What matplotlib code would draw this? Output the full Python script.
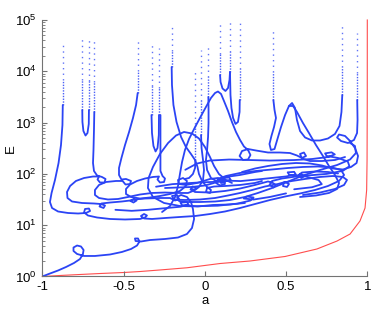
import numpy as np
import matplotlib
matplotlib.use("Agg")
import matplotlib.pyplot as plt

plt.rcParams['font.family'] = ['Liberation Sans', 'DejaVu Sans']
plt.rcParams['font.size'] = 9.5

# red branch: a against E
red_a = [-1.0, -0.891, -0.768, -0.645, -0.497, -0.399, -0.276, -0.110, 0.094, 0.278,
         0.494, 0.690, 0.814, 0.894, 0.955, 0.986, 0.996, 0.9985, 0.9997, 1.0]
red_E = [1.0, 1.046, 1.094, 1.143, 1.197, 1.250, 1.340, 1.479, 1.791, 2.004,
         2.455, 3.436, 4.92, 6.73, 12.08, 21.6, 48.5, 186.6, 2754.0, 1e5]

# blue trajectory as (a, log10 E) pieces
start_curve = [(-1.000, 0.000), (-0.953, 0.058), (-0.903, 0.117), (-0.854, 0.185), (-0.805, 0.263),
               (-0.768, 0.341), (-0.750, 0.439), (-0.746, 0.517), (-0.762, 0.585), (-0.786, 0.604),
               (-0.808, 0.565), (-0.808, 0.497), (-0.786, 0.439), (-0.743, 0.400), (-0.676, 0.400),
               (-0.583, 0.429), (-0.510, 0.478), (-0.454, 0.536), (-0.417, 0.604), (-0.402, 0.682),
               (-0.411, 0.741), (-0.430, 0.741), (-0.426, 0.692), (-0.393, 0.682), (-0.337, 0.711),
               (-0.245, 0.731), (-0.165, 0.760), (-0.110, 0.828), (-0.079, 0.945), (-0.066, 1.121),
               (-0.073, 1.316), (-0.085, 1.452), (-0.110, 1.550), (-0.146, 1.589), (-0.171, 1.550),
               (-0.159, 1.472), (-0.116, 1.452), (-0.030, 1.452), (0.063, 1.462), (0.155, 1.491),
               (0.247, 1.550), (0.327, 1.628), (0.414, 1.725), (0.506, 1.842), (0.604, 1.969),
               (0.709, 2.076), (0.814, 2.173), (0.894, 2.281), (0.930, 2.407), (0.924, 2.544),
               (0.894, 2.602)]

branch_1 = [(-0.874, 3.343), (-0.876, 2.953), (-0.885, 2.563), (-0.900, 2.212), (-0.922, 1.881),
            (-0.943, 1.628), (-0.953, 1.452), (-0.940, 1.335), (-0.903, 1.267), (-0.842, 1.238),
            (-0.780, 1.228), (-0.731, 1.238), (-0.706, 1.277), (-0.713, 1.325), (-0.737, 1.316),
            (-0.743, 1.248), (-0.719, 1.189), (-0.663, 1.150), (-0.583, 1.121), (-0.491, 1.111),
            (-0.399, 1.121), (-0.368, 1.150), (-0.356, 1.189), (-0.374, 1.218), (-0.393, 1.179),
            (-0.374, 1.131), (-0.325, 1.121), (-0.245, 1.140), (-0.153, 1.160), (-0.060, 1.179),
            (0.032, 1.218), (0.124, 1.267), (0.217, 1.335), (0.309, 1.413), (0.401, 1.491),
            (0.494, 1.559), (0.586, 1.618), (0.678, 1.686), (0.758, 1.764), (0.826, 1.862),
            (0.857, 1.979), (0.838, 2.076), (0.783, 2.125), (0.697, 2.144), (0.604, 2.135),
            (0.512, 2.115), (0.414, 2.086), (0.315, 2.057), (0.217, 2.018), (0.130, 1.959),
            (0.081, 1.901), (0.069, 1.823), (0.094, 1.774), (0.124, 1.803), (0.118, 1.871),
            (0.087, 1.881), (0.057, 1.823), (0.001, 1.774), (-0.079, 1.745), (-0.165, 1.735),
            (-0.245, 1.725)]

u_23 = [(-0.754, 3.246), (-0.753, 3.012), (-0.747, 2.836), (-0.734, 2.748), (-0.722, 2.797),
        (-0.714, 2.973), (-0.713, 3.246)]

branch_4 = [(-0.680, 3.207), (-0.682, 2.856), (-0.685, 2.466), (-0.688, 2.212), (-0.682, 2.057),
            (-0.663, 1.969), (-0.633, 1.940), (-0.611, 1.901), (-0.617, 1.832), (-0.645, 1.832),
            (-0.660, 1.891), (-0.651, 1.949), (-0.688, 1.949), (-0.743, 1.920), (-0.793, 1.862),
            (-0.829, 1.764), (-0.848, 1.647), (-0.845, 1.530), (-0.817, 1.462), (-0.756, 1.433),
            (-0.682, 1.423), (-0.639, 1.413), (-0.614, 1.384), (-0.623, 1.335), (-0.648, 1.365),
            (-0.636, 1.423), (-0.583, 1.442), (-0.510, 1.462), (-0.460, 1.481), (-0.436, 1.511),
            (-0.420, 1.481), (-0.439, 1.442), (-0.457, 1.472), (-0.436, 1.501), (-0.368, 1.520),
            (-0.276, 1.530), (-0.214, 1.530), (-0.183, 1.481), (-0.159, 1.511), (-0.171, 1.589),
            (-0.202, 1.569), (-0.190, 1.501), (-0.122, 1.491), (-0.030, 1.501), (0.063, 1.530),
            (0.143, 1.579), (0.217, 1.628), (0.291, 1.686), (0.370, 1.754), (0.450, 1.803),
            (0.494, 1.842), (0.518, 1.803), (0.506, 1.745), (0.481, 1.764), (0.487, 1.832),
            (0.537, 1.862), (0.617, 1.901), (0.709, 1.940), (0.789, 1.959), (0.850, 1.940),
            (0.875, 1.881), (0.857, 1.784), (0.801, 1.706), (0.709, 1.637), (0.604, 1.589)]

branch_5 = [(-0.413, 3.577), (-0.423, 3.343), (-0.442, 3.090), (-0.466, 2.817), (-0.491, 2.563),
            (-0.513, 2.310), (-0.528, 2.115), (-0.528, 1.979), (-0.513, 1.891), (-0.485, 1.901),
            (-0.454, 1.862), (-0.460, 1.803), (-0.488, 1.793), (-0.506, 1.862), (-0.546, 1.862),
            (-0.608, 1.842), (-0.651, 1.784), (-0.676, 1.686), (-0.676, 1.589), (-0.651, 1.530),
            (-0.596, 1.501), (-0.534, 1.511), (-0.472, 1.550), (-0.399, 1.598), (-0.325, 1.628),
            (-0.245, 1.637), (-0.165, 1.628), (-0.103, 1.628), (-0.066, 1.676), (-0.054, 1.735),
            (-0.076, 1.754), (-0.088, 1.696), (-0.060, 1.647), (0.032, 1.637), (0.124, 1.667),
            (0.217, 1.715), (0.309, 1.784), (0.389, 1.852), (0.414, 1.832), (0.438, 1.784),
            (0.423, 1.735), (0.398, 1.784), (0.414, 1.862), (0.475, 1.910), (0.561, 1.949),
            (0.592, 1.998), (0.614, 1.959), (0.595, 1.920), (0.574, 1.969), (0.598, 2.027),
            (0.678, 2.047), (0.758, 2.037), (0.820, 2.008)]

u_67 = [(-0.328, 3.148), (-0.325, 2.797), (-0.316, 2.544), (-0.303, 2.437), (-0.291, 2.505),
        (-0.283, 2.758), (-0.282, 3.148)]

branch_7 = [(-0.273, 3.148), (-0.273, 2.661), (-0.273, 2.271), (-0.273, 2.057), (-0.260, 1.959),
            (-0.245, 1.910), (-0.251, 1.842), (-0.276, 1.832), (-0.291, 1.891), (-0.282, 1.949),
            (-0.319, 1.940), (-0.368, 1.910), (-0.417, 1.862), (-0.460, 1.793), (-0.485, 1.706),
            (-0.485, 1.608), (-0.454, 1.550), (-0.399, 1.520), (-0.337, 1.540), (-0.276, 1.569),
            (-0.214, 1.608), (-0.153, 1.667), (-0.116, 1.764), (-0.110, 1.862), (-0.134, 1.920),
            (-0.165, 1.881), (-0.159, 1.803), (-0.116, 1.784), (-0.048, 1.823), (0.032, 1.901),
            (0.081, 1.920), (0.118, 1.891), (0.124, 1.832), (0.100, 1.823), (0.087, 1.881),
            (0.130, 1.940), (0.217, 1.979), (0.309, 2.037), (0.352, 2.057)]

branch_8 = [(-0.204, 4.084), (-0.202, 3.733), (-0.193, 3.343), (-0.174, 3.012), (-0.146, 2.719),
            (-0.116, 2.524), (-0.085, 2.388), (-0.060, 2.271), (-0.045, 2.135), (-0.036, 1.998),
            (-0.017, 1.862), (0.014, 1.745), (0.038, 1.686), (0.032, 1.628), (0.007, 1.647),
            (0.014, 1.725), (0.057, 1.754), (0.124, 1.764), (0.217, 1.784), (0.309, 1.823),
            (0.352, 1.862)]

hump_0 = [(0.247, 1.433), (0.155, 1.404), (0.050, 1.394), (-0.042, 1.365), (-0.153, 1.374),
          (-0.251, 1.433), (-0.319, 1.550), (-0.350, 1.725), (-0.346, 1.920), (-0.319, 2.135),
          (-0.276, 2.388), (-0.226, 2.602), (-0.177, 2.749), (-0.128, 2.817), (-0.079, 2.788),
          (-0.036, 2.690), (0.001, 2.524), (0.032, 2.329), (0.057, 2.154), (0.087, 1.998),
          (0.130, 1.881), (0.167, 1.823)]

hump_1 = [(-0.263, 1.257), (-0.214, 1.374), (-0.183, 1.550), (-0.165, 1.764), (-0.153, 1.998),
          (-0.140, 2.232), (-0.122, 2.466), (-0.097, 2.680), (-0.066, 2.875), (-0.030, 3.090),
          (0.007, 3.304), (0.038, 3.480), (0.063, 3.577), (0.081, 3.606), (0.100, 3.558),
          (0.118, 3.421), (0.143, 3.226), (0.167, 3.012), (0.192, 2.817), (0.217, 2.661),
          (0.241, 2.534), (0.266, 2.466), (0.281, 2.368), (0.266, 2.281), (0.235, 2.271),
          (0.214, 2.349), (0.229, 2.446), (0.266, 2.485), (0.315, 2.456), (0.389, 2.417),
          (0.463, 2.417), (0.524, 2.407), (0.567, 2.359), (0.598, 2.310), (0.623, 2.349),
          (0.610, 2.417), (0.586, 2.388), (0.598, 2.300), (0.647, 2.251), (0.721, 2.251),
          (0.801, 2.271), (0.863, 2.329)]

branch_9 = [(-0.058, 2.271), (-0.060, 2.115), (-0.073, 1.998), (-0.097, 1.920), (-0.122, 1.901)]
branch_10 = [(-0.023, 2.758), (-0.020, 2.505), (-0.011, 2.271), (-0.005, 2.076), (-0.011, 1.881),
             (-0.036, 1.745), (-0.060, 1.686), (-0.079, 1.706)]
branch_11 = [(0.022, 3.499), (0.023, 3.246), (0.023, 2.992), (0.020, 2.719), (0.014, 2.466),
             (0.007, 2.271), (0.014, 2.076), (0.038, 1.920), (0.081, 1.842)]

u_a = [(0.094, 3.928), (0.097, 3.791), (0.109, 3.665), (0.127, 3.616), (0.143, 3.674),
       (0.152, 3.830), (0.155, 3.986)]
u_b = [(0.155, 3.986), (0.158, 3.538), (0.164, 3.285), (0.174, 3.090), (0.189, 2.973),
       (0.204, 3.012), (0.214, 3.207), (0.215, 3.441)]

branch_15 = [(0.422, 3.441), (0.429, 3.246), (0.438, 3.090), (0.426, 2.914), (0.410, 2.739),
             (0.398, 2.583), (0.407, 2.466), (0.429, 2.485), (0.447, 2.680), (0.469, 2.914),
             (0.494, 3.148), (0.518, 3.324), (0.537, 3.382), (0.555, 3.285), (0.567, 3.051),
             (0.586, 2.836), (0.617, 2.710), (0.660, 2.651), (0.709, 2.651), (0.758, 2.690),
             (0.801, 2.778), (0.829, 2.934), (0.841, 3.207), (0.846, 3.538)]

diagonal = [(0.518, 3.324), (0.543, 3.324), (0.567, 3.207), (0.604, 2.992), (0.641, 2.797),
            (0.684, 2.563), (0.727, 2.349), (0.764, 2.154), (0.801, 1.979), (0.826, 1.823),
            (0.814, 1.706), (0.764, 1.628), (0.684, 1.579), (0.586, 1.550)]

branch_17 = [(0.938, 3.441), (0.940, 3.051), (0.937, 2.797), (0.918, 2.661), (0.881, 2.602),
             (0.838, 2.641), (0.814, 2.710), (0.826, 2.768), (0.863, 2.739), (0.894, 2.641),
             (0.924, 2.505), (0.943, 2.349), (0.934, 2.212), (0.900, 2.135), (0.850, 2.086),
             (0.789, 2.105), (0.721, 2.164), (0.647, 2.203), (0.561, 2.212), (0.475, 2.193),
             (0.389, 2.154), (0.309, 2.105), (0.229, 2.037)]

loop_upper = [(-0.12, 2.08), (-0.05, 2.20), (0.03, 2.26), (0.15, 2.28), (0.28, 2.27),
              (0.40, 2.26), (0.55, 2.27), (0.66, 2.29), (0.76, 2.33), (0.80, 2.38),
              (0.78, 2.42), (0.74, 2.40), (0.75, 2.35), (0.82, 2.31), (0.88, 2.24),
              (0.89, 2.15), (0.85, 2.06), (0.75, 2.00), (0.60, 1.96)]
loop_lower = [(-0.55, 1.30), (-0.45, 1.28), (-0.35, 1.30), (-0.25, 1.33), (-0.15, 1.36),
              (-0.10, 1.40), (-0.11, 1.45), (-0.15, 1.44), (-0.14, 1.39), (-0.05, 1.37),
              (0.08, 1.38), (0.20, 1.42), (0.28, 1.48), (0.30, 1.54), (0.26, 1.56),
              (0.24, 1.52), (0.30, 1.50), (0.40, 1.55), (0.50, 1.62)]
loop_middle = [(-0.30, 1.75), (-0.20, 1.80), (-0.05, 1.83), (0.10, 1.85), (0.16, 1.88),
               (0.15, 1.93), (0.11, 1.92), (0.12, 1.87), (0.22, 1.86), (0.35, 1.90),
               (0.50, 1.95), (0.56, 1.99), (0.55, 2.04), (0.51, 2.03), (0.52, 1.98),
               (0.62, 1.95), (0.70, 1.88), (0.72, 1.80), (0.66, 1.74), (0.55, 1.70)]

# near-vertical spikes, where the points thin out: (a, log10 E at the bottom, log10 E at the top)
spike_tops = [(-0.874, 3.343, 4.552), (-0.754, 3.246, 4.688), (-0.713, 3.246, 4.649),
              (-0.680, 3.207, 4.649), (-0.413, 3.577, 4.655), (-0.328, 3.148, 4.552),
              (-0.282, 3.148, 4.460), (-0.204, 4.084, 4.858), (-0.058, 2.271, 4.012),
              (-0.023, 2.758, 4.415), (0.022, 3.499, 4.493), (0.094, 3.928, 4.961),
              (0.155, 3.986, 4.961), (0.215, 3.441, 4.961), (0.422, 3.441, 4.786),
              (0.846, 3.538, 4.889), (0.938, 3.441, 4.741)]

pieces = [start_curve, branch_1, u_23, branch_4, branch_5, u_67, branch_7, branch_8,
          hump_0, hump_1, branch_9, branch_10, branch_11, u_a, u_b, branch_15,
          diagonal, branch_17, loop_upper, loop_lower, loop_middle]

x_ticks = [-1, -0.5, 0, 0.5, 1]
x_tick_labels = ['-1', '-0.5', '0', '0.5', '1']

blue = '#2b44f5'

fig = plt.figure(figsize=(3.74, 3.09), dpi=100)
ax = fig.add_axes([0.1131, 0.1052, 0.8690, 0.8301])

ax.plot(red_a, red_E, color='#ff4d4d', lw=0.8, clip_on=False, zorder=1)

for piece in pieces:
    a, logE = np.array(piece).T
    ax.plot(a, 10.0 ** logE, color=blue, lw=1.3, solid_joinstyle='round',
            solid_capstyle='round', zorder=2)

for a, lo, hi in spike_tops:
    mid = lo + 0.4 * (hi - lo)
    ax.plot([a, a], [10 ** lo, 10 ** mid], color=blue, lw=1.0, alpha=0.85,
            ls=(0, (1, 1.0)), zorder=2)
    ax.plot([a, a], [10 ** mid, 10 ** hi], color=blue, lw=1.0, alpha=0.75,
            ls=(0, (1, 3.0)), zorder=2)

ax.set_yscale('log')
ax.set_xlim(-1, 1)
ax.set_ylim(1, 1e5)
ax.set_xticks(x_ticks)
ax.set_xticklabels(x_tick_labels)

for side in ['top', 'right']:
    ax.spines[side].set_visible(False)
for side in ['left', 'bottom']:
    ax.spines[side].set_color('0.45')
    ax.spines[side].set_linewidth(0.8)

ax.tick_params(axis='both', which='both', direction='in', color='0.45', labelsize=9.5)
ax.tick_params(axis='x', which='major', length=3.5, pad=3.0)
ax.tick_params(axis='y', which='major', length=3.5, pad=4)
ax.tick_params(axis='y', which='minor', length=2)

ax.set_xlabel('a', fontsize=9.5)
ax.set_ylabel('E', fontsize=9.5)
ax.xaxis.set_label_coords(0.5, -0.072)
ax.yaxis.set_label_coords(-0.078, 0.5)

fig.savefig('out.png', dpi=100)
